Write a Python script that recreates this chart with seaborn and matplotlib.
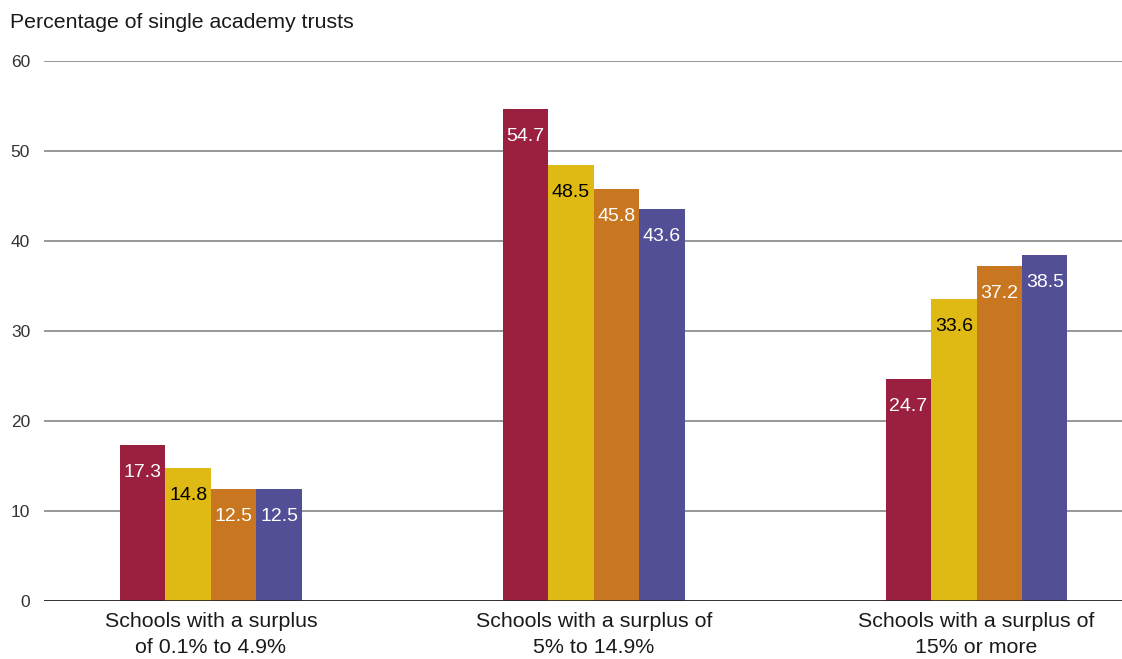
import matplotlib
matplotlib.use("Agg")
import matplotlib.pyplot as plt
import seaborn as sns
import pandas as pd

categories = ["Schools with a surplus\nof 0.1% to 4.9%",
              "Schools with a surplus of\n5% to 14.9%",
              "Schools with a surplus of\n15% or more"]
series = ["2014/15", "2015/16", "2016/17", "2017/18"]
values = {
    "2014/15": [17.3, 54.7, 24.7],
    "2015/16": [14.8, 48.5, 33.6],
    "2016/17": [12.5, 45.8, 37.2],
    "2017/18": [12.5, 43.6, 38.5],
}
colors = ["#9B1F3F", "#DFB914", "#C8761F", "#534F97"]
label_colors = ["white", "black", "white", "white"]
yticks = [0, 10, 20, 30, 40, 50, 60]

rows = []
for s in series:
    for c, v in zip(categories, values[s]):
        rows.append({"category": c, "series": s, "value": v})
df = pd.DataFrame(rows)

sns.set_theme(style="white")
plt.rcParams["font.family"] = ["Liberation Sans", "DejaVu Sans"]

fig = plt.figure(figsize=(11.22, 6.59), dpi=100)
ax = fig.add_axes([44/1122, 1 - 601/659, 1 - 44/1122, (601 - 61)/659])

sns.barplot(data=df, x="category", y="value", hue="series", order=categories,
            hue_order=series, palette=colors, width=0.475, gap=0, saturation=1,
            legend=False, ax=ax, zorder=3, linewidth=0)

for cont, lc in zip(ax.containers, label_colors):
    ax.bar_label(cont, labels=[f"{v:.1f}" for v in cont.datavalues],
                 padding=-26, color=lc, fontsize=14)

ax.set_ylim(0, 60)
ax.set_xlim(-0.436, 2.38)
ax.set_yticks(yticks)
ax.yaxis.grid(True, color="#7a7a7a", linewidth=1.1, zorder=0)
ax.set_axisbelow(True)
for sp in ax.spines.values():
    sp.set_visible(False)
ax.axhline(0, color="#222222", linewidth=1.2, zorder=4)
ax.tick_params(axis="y", length=0, pad=10, labelsize=12.5, labelcolor="#333333")
ax.tick_params(axis="x", length=0, pad=8, labelsize=15.4, labelcolor="#1a1a1a")
for t in ax.get_xticklabels():
    t.set_linespacing(1.45)
ax.set_xlabel("")
ax.set_ylabel("")
fig.text(10/1122, 1 - 23/659, "Percentage of single academy trusts", fontsize=15.3,
         color="#1a1a1a", va="center", ha="left")

fig.savefig("out.png", dpi=100)
